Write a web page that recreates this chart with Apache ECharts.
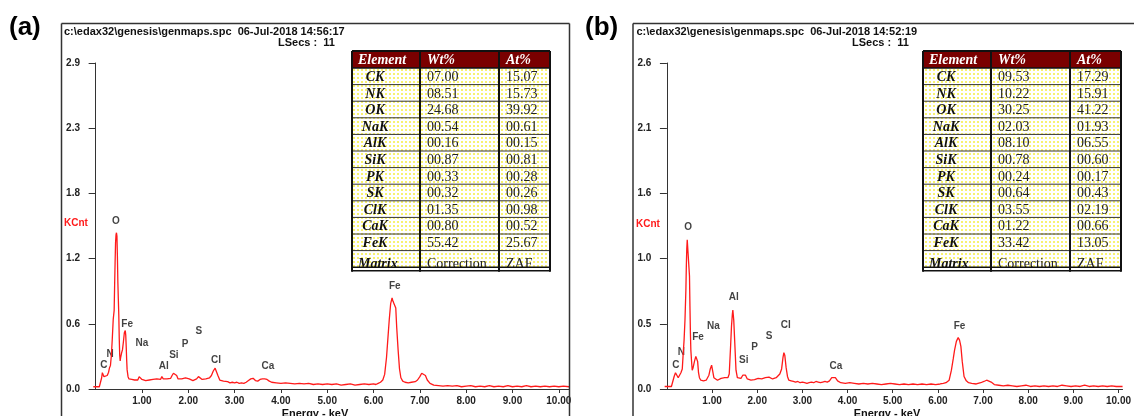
<!DOCTYPE html>
<html>
<head>
<meta charset="utf-8">
<script src="https://cdn.jsdelivr.net/npm/echarts@6/dist/echarts.min.js"></script>
<style>
html, body { margin: 0; padding: 0; background: #fff; }
#chart { width: 1134px; height: 416px; }
</style>
</head>
<body>
<div id="chart"></div>
<script>
// ---- table data ----
var elements = ['CK', 'NK', 'OK', 'NaK', 'AlK', 'SiK', 'PK', 'SK', 'ClK', 'CaK', 'FeK'];
var wtA = ['07.00', '08.51', '24.68', '00.54', '00.16', '00.87', '00.33', '00.32', '01.35', '00.80', '55.42'];
var atA = ['15.07', '15.73', '39.92', '00.61', '00.15', '00.81', '00.28', '00.26', '00.98', '00.52', '25.67'];
var wtB = ['09.53', '10.22', '30.25', '02.03', '08.10', '00.78', '00.24', '00.64', '03.55', '01.22', '33.42'];
var atB = ['17.29', '15.91', '41.22', '01.93', '06.55', '00.60', '00.17', '00.43', '02.19', '00.66', '13.05'];

// ---- axis tick labels ----
var yTicksA = ['0.0', '0.6', '1.2', '1.8', '2.3', '2.9'];
var yTicksB = ['0.0', '0.5', '1.0', '1.6', '2.1', '2.6'];
var xTicks = [1, 2, 3, 4, 5, 6, 7, 8, 9, 10];

// ---- peak labels (keV, KCnt) ----
var peakNames = ['C', 'N', 'O', 'Fe', 'Na', 'Al', 'Si', 'P', 'S', 'Cl', 'Ca', 'Fe'];
var peakXA = [0.18, 0.31, 0.44, 0.68, 1.00, 1.47, 1.69, 1.93, 2.23, 2.60, 3.72, 6.46];
var peakYA = [0.21, 0.31, 1.49, 0.58, 0.41, 0.20, 0.30, 0.40, 0.51, 0.26, 0.20, 0.91];
var peakXB = [0.20, 0.32, 0.47, 0.69, 1.03, 1.48, 1.70, 1.94, 2.26, 2.63, 3.74, 6.48];
var peakYB = [0.19, 0.29, 1.29, 0.41, 0.50, 0.73, 0.23, 0.33, 0.42, 0.51, 0.18, 0.50];

// ---- spectra (keV, KCnt) ----
var specA = [
  [-0.05, 0.02], [0.08, 0.02], [0.11, 0.03], [0.13, 0.10], [0.145, 0.145], [0.16, 0.14], [0.18, 0.11],
  [0.20, 0.10], [0.22, 0.11], [0.25, 0.12], [0.28, 0.15], [0.30, 0.19], [0.32, 0.21], [0.34, 0.30],
  [0.36, 0.45], [0.38, 0.62], [0.40, 0.70], [0.41, 0.92], [0.42, 1.12], [0.43, 1.30], [0.44, 1.37],
  [0.45, 1.39], [0.46, 1.36], [0.47, 1.18], [0.48, 0.95], [0.49, 0.80], [0.50, 0.66], [0.51, 0.45],
  [0.52, 0.30], [0.53, 0.25], [0.54, 0.28], [0.56, 0.32], [0.58, 0.35], [0.60, 0.42], [0.62, 0.50],
  [0.64, 0.52], [0.65, 0.48], [0.66, 0.38], [0.67, 0.26], [0.68, 0.17], [0.70, 0.11], [0.72, 0.09],
  [0.75, 0.08], [0.78, 0.085], [0.81, 0.075], [0.84, 0.08], [0.88, 0.07], [0.91, 0.08], [0.94, 0.11],
  [0.97, 0.10], [1.00, 0.085], [1.04, 0.08], [1.08, 0.075], [1.12, 0.085], [1.16, 0.08], [1.20, 0.09],
  [1.24, 0.085], [1.28, 0.08], [1.32, 0.09], [1.36, 0.095], [1.40, 0.085], [1.43, 0.11], [1.46, 0.09],
  [1.50, 0.10], [1.54, 0.09], [1.58, 0.085], [1.62, 0.095], [1.65, 0.12], [1.68, 0.14], [1.72, 0.135],
  [1.75, 0.12], [1.78, 0.09], [1.82, 0.085], [1.86, 0.09], [1.90, 0.08], [1.94, 0.10], [1.98, 0.10],
  [2.02, 0.09], [2.06, 0.08], [2.10, 0.075], [2.14, 0.085], [2.18, 0.09], [2.22, 0.11], [2.26, 0.10],
  [2.30, 0.085], [2.34, 0.08], [2.38, 0.09], [2.42, 0.085], [2.46, 0.10], [2.50, 0.12], [2.54, 0.16],
  [2.58, 0.185], [2.61, 0.17], [2.64, 0.12], [2.68, 0.08], [2.72, 0.065], [2.76, 0.07], [2.80, 0.06],
  [2.85, 0.065], [2.90, 0.055], [2.95, 0.06], [3.00, 0.055], [3.05, 0.06], [3.10, 0.05], [3.15, 0.055],
  [3.20, 0.05], [3.25, 0.06], [3.30, 0.075], [3.35, 0.09], [3.40, 0.095], [3.45, 0.075], [3.50, 0.07],
  [3.55, 0.085], [3.60, 0.09], [3.65, 0.09], [3.70, 0.085], [3.75, 0.07], [3.80, 0.06], [3.90, 0.055],
  [4.00, 0.05], [4.10, 0.055], [4.20, 0.05], [4.30, 0.045], [4.40, 0.05], [4.50, 0.045], [4.60, 0.05],
  [4.70, 0.04], [4.80, 0.045], [4.90, 0.04], [5.00, 0.045], [5.10, 0.04], [5.20, 0.045], [5.30, 0.035],
  [5.40, 0.04], [5.50, 0.045], [5.60, 0.035], [5.70, 0.04], [5.80, 0.045], [5.90, 0.04], [6.00, 0.045],
  [6.05, 0.04], [6.10, 0.05], [6.15, 0.06], [6.20, 0.08], [6.24, 0.13], [6.28, 0.28], [6.31, 0.45],
  [6.34, 0.62], [6.37, 0.76], [6.40, 0.81], [6.42, 0.78], [6.44, 0.77], [6.46, 0.79], [6.48, 0.72],
  [6.50, 0.55], [6.53, 0.35], [6.56, 0.18], [6.59, 0.10], [6.63, 0.07], [6.68, 0.06], [6.75, 0.055],
  [6.82, 0.06], [6.90, 0.065], [6.95, 0.08], [7.00, 0.11], [7.04, 0.14], [7.08, 0.145], [7.12, 0.12],
  [7.16, 0.08], [7.22, 0.05], [7.30, 0.035], [7.40, 0.03], [7.50, 0.025], [7.60, 0.03], [7.70, 0.025],
  [7.80, 0.03], [7.90, 0.02], [8.00, 0.025], [8.10, 0.03], [8.20, 0.02], [8.30, 0.025], [8.40, 0.02],
  [8.50, 0.03], [8.60, 0.02], [8.70, 0.025], [8.80, 0.02], [8.90, 0.03], [9.00, 0.02], [9.10, 0.025],
  [9.20, 0.02], [9.30, 0.03], [9.40, 0.02], [9.50, 0.025], [9.60, 0.02], [9.70, 0.025], [9.80, 0.02],
  [9.90, 0.025], [10.00, 0.02], [10.10, 0.025], [10.22, 0.02]
];
var specB = [
  [-0.05, 0.02], [0.10, 0.02], [0.13, 0.03], [0.16, 0.10], [0.19, 0.13], [0.22, 0.12], [0.25, 0.09],
  [0.28, 0.10], [0.31, 0.13], [0.34, 0.16], [0.36, 0.28], [0.38, 0.39], [0.40, 0.55], [0.42, 0.79],
  [0.43, 0.98], [0.44, 1.12], [0.45, 1.19], [0.47, 1.19], [0.49, 1.19], [0.50, 0.90], [0.51, 0.66],
  [0.52, 0.45], [0.53, 0.31], [0.55, 0.20], [0.56, 0.15], [0.58, 0.17], [0.61, 0.22], [0.64, 0.26],
  [0.66, 0.27], [0.68, 0.22], [0.70, 0.13], [0.72, 0.09], [0.75, 0.07], [0.78, 0.08], [0.81, 0.065],
  [0.84, 0.075], [0.87, 0.07], [0.90, 0.09], [0.93, 0.11], [0.96, 0.16], [0.99, 0.19], [1.01, 0.15],
  [1.04, 0.09], [1.08, 0.08], [1.12, 0.07], [1.16, 0.08], [1.20, 0.085], [1.24, 0.08], [1.28, 0.09],
  [1.31, 0.10], [1.35, 0.09], [1.38, 0.12], [1.41, 0.34], [1.43, 0.50], [1.45, 0.60], [1.46, 0.63],
  [1.48, 0.55], [1.50, 0.39], [1.53, 0.15], [1.56, 0.09], [1.60, 0.08], [1.64, 0.085], [1.68, 0.11],
  [1.71, 0.12], [1.74, 0.11], [1.78, 0.08], [1.82, 0.075], [1.86, 0.07], [1.90, 0.08], [1.94, 0.075],
  [1.98, 0.09], [2.02, 0.085], [2.06, 0.075], [2.10, 0.08], [2.14, 0.085], [2.18, 0.09], [2.22, 0.10],
  [2.26, 0.095], [2.30, 0.09], [2.34, 0.08], [2.38, 0.085], [2.42, 0.09], [2.46, 0.10], [2.50, 0.12],
  [2.54, 0.16], [2.57, 0.25], [2.59, 0.29], [2.61, 0.27], [2.64, 0.17], [2.67, 0.10], [2.70, 0.07],
  [2.75, 0.065], [2.80, 0.06], [2.85, 0.055], [2.90, 0.06], [2.95, 0.05], [3.00, 0.055], [3.05, 0.05],
  [3.10, 0.045], [3.15, 0.05], [3.20, 0.055], [3.25, 0.05], [3.30, 0.06], [3.35, 0.055], [3.40, 0.05],
  [3.45, 0.055], [3.50, 0.06], [3.55, 0.055], [3.60, 0.065], [3.65, 0.09], [3.69, 0.10], [3.73, 0.09],
  [3.78, 0.065], [3.85, 0.05], [3.95, 0.045], [4.05, 0.05], [4.15, 0.045], [4.25, 0.04], [4.35, 0.045],
  [4.45, 0.04], [4.55, 0.045], [4.65, 0.04], [4.75, 0.035], [4.85, 0.04], [4.95, 0.045], [5.05, 0.04],
  [5.15, 0.035], [5.25, 0.04], [5.35, 0.035], [5.45, 0.04], [5.55, 0.035], [5.65, 0.04], [5.75, 0.035],
  [5.85, 0.04], [5.95, 0.035], [6.05, 0.04], [6.12, 0.045], [6.18, 0.05], [6.25, 0.07], [6.30, 0.15],
  [6.34, 0.24], [6.37, 0.31], [6.41, 0.38], [6.45, 0.41], [6.48, 0.39], [6.51, 0.34], [6.54, 0.22],
  [6.58, 0.10], [6.63, 0.065], [6.68, 0.05], [6.75, 0.045], [6.85, 0.04], [6.95, 0.05], [7.02, 0.06],
  [7.08, 0.07], [7.12, 0.07], [7.18, 0.055], [7.25, 0.035], [7.35, 0.03], [7.45, 0.025], [7.55, 0.03],
  [7.65, 0.025], [7.75, 0.02], [7.85, 0.025], [7.95, 0.03], [8.05, 0.02], [8.15, 0.025], [8.25, 0.02],
  [8.35, 0.025], [8.45, 0.02], [8.55, 0.025], [8.65, 0.02], [8.75, 0.03], [8.85, 0.025], [8.95, 0.02],
  [9.05, 0.025], [9.15, 0.02], [9.25, 0.03], [9.35, 0.02], [9.45, 0.025], [9.55, 0.02], [9.65, 0.025],
  [9.75, 0.02], [9.85, 0.025], [9.95, 0.02], [10.09, 0.02]
];

var SANS = 'Liberation Sans';
var SERIF = 'Liberation Serif';

// dotted yellow fill for table rows
var dotCanvas = document.createElement('canvas');
dotCanvas.width = 4; dotCanvas.height = 4;
var dc = dotCanvas.getContext('2d');
dc.fillStyle = '#ffffff'; dc.fillRect(0, 0, 4, 4);
dc.fillStyle = '#f8f270'; dc.fillRect(1, 1, 2, 2);
var dotFill = { image: dotCanvas, repeat: 'repeat' };

function makeY(gridIndex, max, labels) {
  var step = max / 5;
  return {
    type: 'value', gridIndex: gridIndex, min: 0, max: max, interval: step,
    axisLine: { show: true, lineStyle: { color: '#333', width: 1 } },
    axisTick: { show: true, length: 7, lineStyle: { color: '#333' } },
    axisLabel: {
      margin: 11, color: '#222', fontSize: 10, fontWeight: 'bold', fontFamily: SANS,
      formatter: function (v) { return labels[Math.round(v / step)]; }
    },
    splitLine: { show: false }
  };
}

function makeX(gridIndex, max) {
  return {
    type: 'value', gridIndex: gridIndex, min: -0.1, max: max,
    axisLine: { show: true, onZero: false, lineStyle: { color: '#333', width: 1 } },
    axisTick: { show: true, length: 4, customValues: xTicks, lineStyle: { color: '#333' } },
    axisLabel: {
      customValues: xTicks, margin: 7, color: '#222', fontSize: 10, fontWeight: 'bold', fontFamily: SANS,
      formatter: function (v) { return v.toFixed(2); }
    },
    splitLine: { show: false }
  };
}

function spectrum(idx, data) {
  return {
    type: 'line', xAxisIndex: idx, yAxisIndex: idx, data: data,
    symbol: 'none', silent: true,
    lineStyle: { color: '#ff1a1a', width: 1.3 }
  };
}

function peakLabels(idx, xs, ys) {
  return {
    type: 'scatter', xAxisIndex: idx, yAxisIndex: idx, silent: true,
    symbolSize: 1, itemStyle: { color: 'rgba(0,0,0,0)' },
    label: {
      show: true, position: 'inside', formatter: '{b}',
      color: '#111', fontSize: 10, fontWeight: 'bold', fontFamily: SANS
    },
    data: peakNames.map(function (n, i) { return { name: n, value: [xs[i], ys[i]] }; })
  };
}

function txt(x, y, text, font, fill, align) {
  return {
    type: 'text', x: x, y: y, z: 100, silent: true,
    style: { text: text, font: font, fill: fill || '#111', textAlign: align || 'left', textVerticalAlign: 'middle' }
  };
}

function line(x1, y1, x2, y2, w, color) {
  return {
    type: 'line', z: 101, silent: true,
    shape: { x1: x1, y1: y1, x2: x2, y2: y2 },
    style: { stroke: color || '#111', lineWidth: w }
  };
}

function tableGraphics(left, top, wt, at) {
  var colW = [68, 79, 51];
  var headH = 17, rowH = 16.6;
  var width = colW[0] + colW[1] + colW[2];
  var rows = elements.map(function (e, i) { return [e, wt[i], at[i]]; });
  rows.push(['Matrix', 'Correction', 'ZAF']);
  var bodyTop = top + headH;
  var bottom = bodyTop + rows.length * rowH;
  var c1 = left + colW[0], c2 = c1 + colW[1];
  var els = [];
  els.push({ type: 'rect', z: 99, silent: true, shape: { x: left, y: top, width: width, height: headH }, style: { fill: '#7a0000' } });
  els.push({ type: 'rect', z: 99, silent: true, shape: { x: left, y: bodyTop, width: width, height: bottom - bodyTop + 4 }, style: { fill: dotFill } });
  var hf = 'italic bold 14px "' + SERIF + '"';
  els.push(txt(left + 6, top + headH / 2 + 1, 'Element', hf, '#fff'));
  els.push(txt(c1 + 7, top + headH / 2 + 1, 'Wt%', hf, '#fff'));
  els.push(txt(c2 + 7, top + headH / 2 + 1, 'At%', hf, '#fff'));
  var nf = '14px "' + SERIF + '"';
  rows.forEach(function (r, i) {
    var last = i === rows.length - 1;
    var cy = bodyTop + i * rowH + rowH / 2 + (last ? 5 : 1);
    if (last) els.push(txt(left + 6, cy, r[0], hf, '#111'));
    else els.push(txt(left + 23, cy, r[0], hf, '#111', 'center'));
    els.push(txt(c1 + 7, cy, r[1], nf, '#222'));
    els.push(txt(c2 + 7, cy, r[2], nf, '#222'));
  });
  for (var i = 1; i < rows.length; i++) {
    els.push(line(left, bodyTop + i * rowH, left + width, bodyTop + i * rowH, 1, '#333'));
  }
  // white gap then double rule at the bottom
  els.push({ type: 'rect', z: 101, silent: true, shape: { x: left, y: bottom, width: width, height: 4 }, style: { fill: '#fff' } });
  els.push(line(left, bottom, left + width, bottom, 1.5, '#111'));
  els.push(line(left, bottom + 3.5, left + width, bottom + 3.5, 1.5, '#111'));
  els.push(line(left, top, left + width, top, 2));
  els.push(line(left, bodyTop, left + width, bodyTop, 1.5));
  els.push(line(left, top, left, bottom + 4.5, 2));
  els.push(line(c1, top, c1, bottom + 4.5, 2));
  els.push(line(c2, top, c2, bottom + 4.5, 2));
  els.push(line(left + width, top, left + width, bottom + 4.5, 2));
  return els;
}

var headFont = 'bold 11px "' + SANS + '"';
var smallBold = 'bold 10px "' + SANS + '"';
var graphics = [].concat(
  // panel frames
  [line(61.5, 23.5, 61.5, 416, 1.5, '#333'), line(61.5, 23.5, 569.5, 23.5, 1.5, '#333'), line(569.5, 23.5, 569.5, 416, 1.5, '#333')],
  [line(633, 23.5, 633, 416, 1.5, '#333'), line(633, 23.5, 1134, 23.5, 1.5, '#333')],
  // panel letters
  [txt(9, 28, '(a)', 'bold 26px "' + SANS + '"', '#000'), txt(585, 28, '(b)', 'bold 26px "' + SANS + '"', '#000')],
  // headers
  [txt(64, 32, 'c:\\edax32\\genesis\\genmaps.spc  06-Jul-2018 14:56:17', headFont, '#111'),
   txt(278, 43, 'LSecs :  11', headFont, '#111'),
   txt(636.5, 32, 'c:\\edax32\\genesis\\genmaps.spc  06-Jul-2018 14:52:19', headFont, '#111'),
   txt(852, 43, 'LSecs :  11', headFont, '#111')],
  // KCnt and axis names
  [txt(64, 223, 'KCnt', smallBold, '#ff1a1a'), txt(636, 224, 'KCnt', smallBold, '#ff1a1a'),
   txt(315, 414, 'Energy - keV', headFont, '#111', 'center'), txt(887, 414, 'Energy - keV', headFont, '#111', 'center')],
  tableGraphics(352, 51, wtA, atA),
  tableGraphics(923, 51, wtB, atB)
);

var chart = echarts.init(document.getElementById('chart'));
chart.setOption({
  animation: false,
  backgroundColor: '#fff',
  grid: [
    { left: 91, top: 63, width: 478, height: 326 },
    { left: 662.4, top: 63, width: 471.6, height: 326 }
  ],
  xAxis: [makeX(0, 10.22), makeX(1, 10.09)],
  yAxis: [makeY(0, 2.9, yTicksA), makeY(1, 2.6, yTicksB)],
  series: [
    spectrum(0, specA), spectrum(1, specB),
    peakLabels(0, peakXA, peakYA), peakLabels(1, peakXB, peakYB)
  ],
  graphic: { elements: graphics }
});
</script>
</body>
</html>
